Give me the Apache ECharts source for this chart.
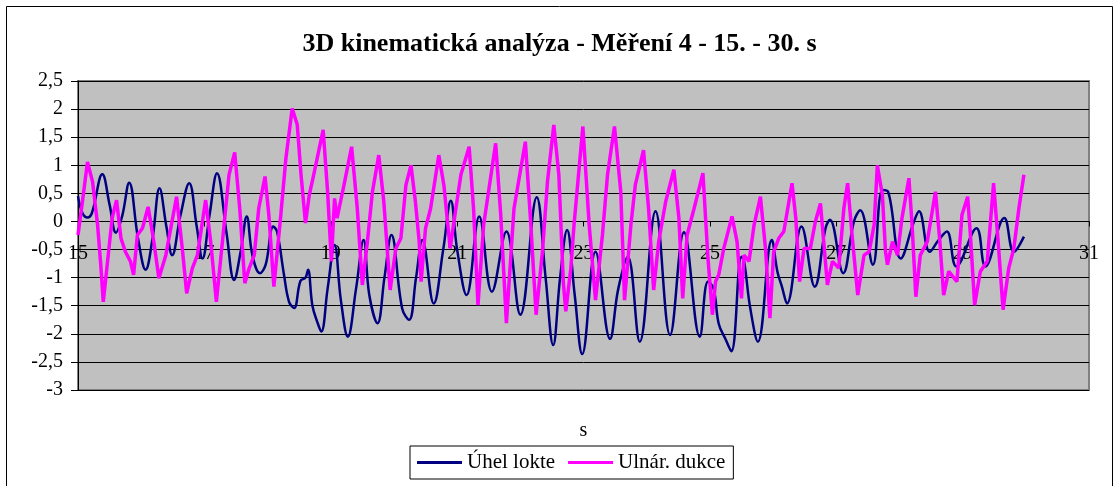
<!DOCTYPE html>
<html>
<head>
<meta charset="utf-8">
<script src="https://cdn.jsdelivr.net/npm/echarts@6/dist/echarts.min.js"></script>
<style>
  html, body { margin: 0; padding: 0; background: #fff; }
  #chart { width: 1119px; height: 486px; }
</style>
</head>
<body>
<div id="chart"></div>
<script>
// Úhel lokte - cas [s] a hodnoty
const elbowTime = [15.0, 15.07, 15.15, 15.22, 15.385, 15.5, 15.6, 15.7, 15.81, 15.95, 16.07, 16.18, 16.29, 16.4, 16.49,
  16.62, 16.76, 16.88, 16.97, 17.08, 17.2, 17.35, 17.47, 17.58, 17.67, 17.76, 17.88, 17.97, 18.09, 18.15, 18.26, 18.34,
  18.42, 18.52, 18.6, 18.64, 18.71, 18.79, 18.85, 18.95, 19.06, 19.16, 19.27, 19.4, 19.52, 19.61, 19.74, 19.85, 19.96,
  20.13, 20.24, 20.35, 20.45, 20.63, 20.78, 20.9, 21.0, 21.15, 21.35, 21.55, 21.78, 22.0, 22.26, 22.4, 22.52, 22.63,
  22.74, 22.86, 22.98, 23.19, 23.42, 23.55, 23.7, 23.89, 24.14, 24.37, 24.59, 24.84, 24.97, 25.06, 25.14, 25.25, 25.34,
  25.5, 25.54, 25.64, 25.76, 25.98, 26.07, 26.14, 26.22, 26.45, 26.66, 26.83, 26.9, 27.11, 27.28, 27.38, 27.58, 27.73,
  27.82, 28.02, 28.23, 28.31, 28.48, 28.62, 28.75, 28.9, 29.22, 29.36, 29.66, 29.81, 29.97];
const elbowAngle = [0.45, 0.15, 0.07, 0.15, 0.84, 0.3, -0.2, 0.1, 0.69, -0.3, -0.86, -0.3, 0.59, -0.1, -0.6,
  0.1, 0.68, -0.1, -0.66, 0.1, 0.86, -0.2, -1.04, -0.5, 0.09, -0.6, -0.92, -0.77, -0.09, -0.18, -0.95, -1.43,
  -1.54, -1.06, -1.0, -0.86, -1.5, -1.8, -1.96, -1.2, -0.42, -1.4, -2.05, -1.2, -0.33, -1.31, -1.81, -1.0, -0.24,
  -1.55, -1.75, -1.0, -0.33, -1.46, -0.5, 0.37, -0.5, -1.31, 0.09, -1.25, -0.18, -1.66, 0.43, -1.0, -2.2, -1.0,
  -0.15, -1.3, -2.36, -0.54, -2.09, -1.2, -0.63, -2.14, 0.18, -2.02, -0.19, -2.05, -1.07, -1.2, -1.82, -2.1, -2.31,
  -0.63, -0.7, -1.55, -2.14, -0.33, -0.9, -1.16, -1.46, -0.09, -1.16, -0.12, 0.03, -0.92, 0.0, 0.2, -0.77, 0.56,
  0.53, -0.66, 0.0, 0.18, -0.54, -0.33, -0.18, -0.8, -0.12, -0.8, 0.06, -0.54, -0.27];

// Ulnár. dukce - cas [s] a hodnoty
const ulnarTime = [15.0, 15.07, 15.15, 15.23, 15.31, 15.36, 15.4, 15.49, 15.54, 15.61, 15.68, 15.75, 15.83, 15.88, 15.94,
  16.02, 16.11, 16.2, 16.28, 16.39, 16.56, 16.65, 16.72, 16.81, 16.89, 17.02, 17.1, 17.19, 17.28, 17.39, 17.48,
  17.56, 17.64, 17.71, 17.79, 17.86, 17.96, 18.02, 18.1, 18.21, 18.29, 18.39, 18.47, 18.53, 18.6, 18.66, 18.73, 18.88,
  18.95, 19.01, 19.06, 19.1, 19.21, 19.33, 19.42, 19.5, 19.58, 19.66, 19.76, 19.84, 19.94,
  20.03, 20.11, 20.19, 20.27, 20.34, 20.4, 20.43, 20.5, 20.58, 20.71, 20.79, 20.89, 20.98, 21.06, 21.19, 21.26, 21.33,
  21.42, 21.61, 21.69, 21.78, 21.9, 22.08, 22.16, 22.25, 22.35, 22.43, 22.53,
  22.61, 22.68, 22.72, 22.8, 22.85, 22.99, 23.09, 23.19, 23.3, 23.38, 23.49, 23.59, 23.65, 23.75, 23.82, 23.95, 24.03,
  24.11, 24.19, 24.3, 24.43, 24.51, 24.57, 24.64, 24.75, 24.89, 24.97, 25.04,
  25.09, 25.14, 25.22, 25.35, 25.43, 25.5, 25.54, 25.62, 25.7, 25.8, 25.88, 25.95, 26.01, 26.09, 26.17, 26.3, 26.36,
  26.42, 26.49, 26.59, 26.67, 26.75, 26.86, 26.94, 27.04, 27.12, 27.18, 27.25, 27.34, 27.44, 27.52, 27.6,
  27.65, 27.73, 27.78, 27.81, 27.89, 27.97, 28.04, 28.15, 28.2, 28.26, 28.33, 28.44, 28.57, 28.64, 28.7, 28.78, 28.91,
  28.99, 29.08, 29.13, 29.19, 29.28, 29.39, 29.49, 29.57, 29.64, 29.73, 29.81, 29.89, 29.97];
const ulnarDev = [-0.24, 0.35, 1.06, 0.71, -0.06, -0.77, -1.43, -0.48, 0.06, 0.38, -0.3, -0.54, -0.71, -0.95, -0.24,
  -0.12, 0.26, -0.36, -1.01, -0.6, 0.44, -0.48, -1.28, -0.83, -0.6, 0.38, -0.36, -1.43, -0.42, 0.83, 1.23,
  0.23, -1.1, -0.83, -0.6, 0.23, 0.8, 0.12, -1.16, 0.12, 1.12, 2.01, 1.72, 0.83, -0.03, 0.47, 0.83, 1.63,
  0.53, -0.71, 0.41, 0.06, 0.65, 1.33, 0.23, -1.13, -0.36, 0.53, 1.18, 0.35, -1.22,
  -0.48, -0.3, 0.65, 1.0, 0.35, -0.36, -1.07, -0.12, 0.23, 1.18, 0.65, -0.48, 0.23, 0.83, 1.33, 0.23, -1.49,
  -0.06, 1.39, 0.12, -1.81, 0.23, 1.42, 0.06, -1.66, -0.54, 0.71, 1.72,
  0.83, -1.07, -1.6, -0.83, -0.06, 1.69, -0.06, -1.4, -0.24, 0.83, 1.69, 0.53, -1.4, -0.06, 0.65, 1.27, 0.23,
  -1.22, -0.36, 0.35, 0.92, 0.06, -1.37, -0.24, 0.23, 0.86, -0.66, -1.66,
  -1.07, -0.95, -0.48, 0.09, -0.36, -1.37, -0.6, -0.71, -0.06, 0.44, -0.48, -1.72, -0.54, -0.3, -0.18, 0.68, 0.06,
  -1.07, -0.48, -0.48, 0.0, 0.32, -1.13, -0.71, -0.83, 0.23, 0.68, -0.24, -1.31, -0.6, -0.54, -0.06,
  1.0, 0.47, -0.54, -0.77, -0.36, -0.6, 0.06, 0.77, -0.06, -1.34, -0.6, -0.36, 0.53, -0.36, -1.31, -0.89, -1.07,
  0.12, 0.44, -0.36, -1.49, -0.89, -0.71, 0.68, -0.48, -1.57, -0.83, -0.48, 0.23, 0.83];

const seriesNames = ['Úhel lokte', 'Ulnár. dukce'];
const xTicks = [15, 31, 2];      // min, max, krok
const yTicks = [-3, 2.5, 0.5];

const pair = (xs, ys) => xs.map((x, i) => [x, ys[i]]);
const serif = '"Liberation Serif", "Times New Roman", serif';

// osa x lezi na nule (jako v Excelu) -> posun od spodniho okraje mrizky
const gridTop = 81, gridBottom = 96, chartH = 486;
const plotH = chartH - gridTop - gridBottom;
const zeroOffset = -plotH * (0 - yTicks[0]) / (yTicks[1] - yTicks[0]);

const chart = echarts.init(document.getElementById('chart'));
chart.setOption({
  backgroundColor: '#fff',
  animation: false,
  title: {
    text: '3D kinematická analýza - Měření 4 - 15. - 30. s',
    left: 'center',
    top: 26,
    textStyle: { fontFamily: serif, fontSize: 26, fontWeight: 'bold', color: '#000' }
  },
  legend: {
    left: 410,
    top: 446,
    data: seriesNames,
    icon: 'rect',
    itemWidth: 45,
    itemHeight: 3,
    itemGap: 13,
    padding: [6, 8, 6, 7],
    borderColor: '#000',
    borderWidth: 1,
    borderRadius: 0,
    textStyle: { fontFamily: serif, fontSize: 21, color: '#000' }
  },
  grid: {
    left: 78, right: 30, top: gridTop, bottom: gridBottom,
    outerBoundsMode: 'none',
    containLabel: false,
    show: true,
    backgroundColor: '#c0c0c0',
    borderColor: '#808080',
    borderWidth: 2
  },
  xAxis: {
    type: 'value',
    min: xTicks[0], max: xTicks[1], interval: xTicks[2],
    offset: zeroOffset,
    name: 's',
    nameLocation: 'middle',
    nameGap: 199,
    nameTextStyle: { fontFamily: serif, fontSize: 20, color: '#000' },
    axisLine: { onZero: false, lineStyle: { color: '#000', width: 1 } },
    axisTick: { show: true, length: 5, lineStyle: { color: '#000' } },
    axisLabel: { margin: 22, fontFamily: serif, fontSize: 20, color: '#000' },
    splitLine: { show: false }
  },
  yAxis: {
    type: 'value',
    min: yTicks[0], max: yTicks[1], interval: yTicks[2],
    axisLine: { show: true, lineStyle: { color: '#000', width: 1 } },
    axisTick: { show: true, length: 7, lineStyle: { color: '#000' } },
    axisLabel: {
      margin: 15, fontFamily: serif, fontSize: 20, color: '#000',
      formatter: v => String(v).replace('.', ',')
    },
    splitLine: { show: true, lineStyle: { color: '#000', width: 1 } }
  },
  series: [
    {
      name: seriesNames[0],
      type: 'line',
      data: pair(elbowTime, elbowAngle),
      symbol: 'none',
      smooth: 0.4,
      color: '#000080',
      lineStyle: { color: '#000080', width: 2.5 },
      z: 3
    },
    {
      name: seriesNames[1],
      type: 'line',
      data: pair(ulnarTime, ulnarDev),
      symbol: 'none',
      color: '#ff00ff',
      lineStyle: { color: '#ff00ff', width: 3.5 },
      z: 4
    }
  ],
  graphic: [{
    type: 'rect',
    shape: { x: 6.5, y: 6.5, width: 1106, height: 520 },
    style: { fill: 'none', stroke: '#000', lineWidth: 1 },
    silent: true
  }]
});
</script>
</body>
</html>
